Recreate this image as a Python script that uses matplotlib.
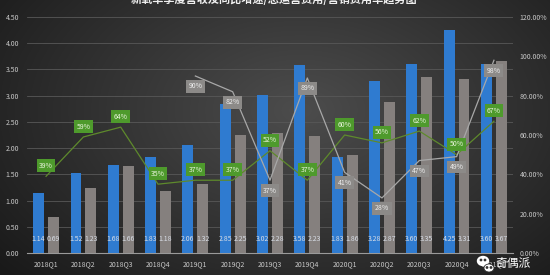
import matplotlib
matplotlib.use("Agg")
import matplotlib.pyplot as plt
import numpy as np
from matplotlib.patches import Ellipse

plt.rcParams['font.family'] = ['Noto Sans CJK SC', 'DejaVu Sans']

categories = ["2018Q1", "2018Q2", "2018Q3", "2018Q4", "2019Q1", "2019Q2", "2019Q3",
              "2019Q4", "2020Q1", "2020Q2", "2020Q3", "2020Q4", "2021Q1"]
revenue = [1.14, 1.52, 1.68, 1.83, 2.06, 2.85, 3.02, 3.58, 1.83, 3.28, 3.60, 4.25, 3.60]
opex = [0.69, 1.23, 1.66, 1.18, 1.32, 2.25, 2.28, 2.23, 1.86, 2.87, 3.35, 3.31, 3.67]
marketing_rate = [39, 59, 64, 35, 37, 37, 52, 37, 60, 56, 62, 50, 67]
yoy_categories = categories[4:]
yoy_growth = [90, 82, 37, 89, 41, 28, 47, 49, 98]
left_ticks = [0, 0.5, 1.0, 1.5, 2.0, 2.5, 3.0, 3.5, 4.0, 4.5]
right_ticks = [0, 20, 40, 60, 80, 100, 120]
title = "新氧单季度营收及同比增速/总运营费用/营销费用率趋势图"

fig = plt.figure(figsize=(5.5, 2.75), dpi=100)

# radial gradient background
bg = fig.add_axes([0, 0, 1, 1], zorder=-10)
yy, xx = np.mgrid[0:275, 0:550]
r = np.sqrt(((xx - 300) / 330.0) ** 2 + ((yy - 110) / 210.0) ** 2)
val = np.clip(0.30 - 0.17 * r, 0.10, 0.30)
img = np.dstack([val, val, val])
bg.imshow(img, aspect='auto', extent=[0, 1, 0, 1], origin='upper')
bg.axis('off')

ax = fig.add_axes([27.4 / 550, 1 - 253 / 275, (512.6 - 27.4) / 550, 236 / 275])
ax.set_facecolor('none')
x = np.arange(len(categories))
bw = 0.29
ax.bar(x - 0.2, revenue, bw, color='#2f7bd0', zorder=3)
ax.bar(x + 0.2, opex, bw, color='#85807e', zorder=3)
ax.set_xlim(-0.5, len(categories) - 0.5)
ax.set_ylim(0, 4.5)
ax.set_yticks(left_ticks)
ax.set_yticklabels([f"{t:.2f}" for t in left_ticks])
ax.set_xticks(x)
ax.set_xticklabels(categories)
ax.tick_params(axis='both', length=0, colors='#c8c8c8', labelsize=5)
ax.tick_params(axis='y', pad=6)
ax.tick_params(axis='x', pad=5)
ax.grid(axis='y', color='#585858', linewidth=0.6, zorder=0)
for s in ['top', 'right', 'left']:
    ax.spines[s].set_visible(False)
ax.spines['bottom'].set_color('#9a9a9a')
ax.spines['bottom'].set_linewidth(0.8)

for i in range(len(categories)):
    ax.text(x[i] - 0.2, 0.27, f"{revenue[i]:.2f}", ha='center', va='center',
            fontsize=5, color='#d8dde6', zorder=5)
    ax.text(x[i] + 0.2, 0.27, f"{opex[i]:.2f}", ha='center', va='center',
            fontsize=5, color='#d8dde6', zorder=5)

ax2 = ax.twinx()
ax2.set_ylim(0, 120)
ax2.set_yticks(right_ticks)
ax2.set_yticklabels([f"{t:.2f}%" for t in right_ticks])
ax2.tick_params(axis='y', length=0, colors='#c8c8c8', labelsize=5, pad=5)
for s in ['top', 'right', 'left', 'bottom']:
    ax2.spines[s].set_visible(False)

ax2.plot(x, marketing_rate, color='#5e8a2c', linewidth=0.9, zorder=4)
xy = x[4:]
ax2.plot(xy, yoy_growth, color='#a8a8a8', linewidth=0.9, zorder=4)

for i, v in enumerate(marketing_rate):
    ax2.annotate(f"{v}%", (x[i], v), xytext=(0, 7.5), textcoords='offset points',
                 ha='center', va='center', fontsize=5, color='#e8f4dc', zorder=6,
                 bbox=dict(boxstyle='square,pad=0.35', fc='#4e9a2c', ec='none'))
for xi, v in zip(xy, yoy_growth):
    ax2.annotate(f"{v}%", (xi, v), xytext=(0, -7.5), textcoords='offset points',
                 ha='center', va='center', fontsize=5, color='#eeeeee', zorder=6,
                 bbox=dict(boxstyle='square,pad=0.35', fc='#8c8a88', ec='none'))

fig.text(274 / 550, 1 - 6 / 275, title, ha='center', va='bottom', fontsize=8,
         color='#f0f0f0', fontweight='bold')

# watermark
fig.text(495 / 550, 1 - 264 / 275, "奇偶派", ha='left', va='center', fontsize=8.5,
         color='#ffffff', zorder=20)
wa = fig.add_axes([0, 0, 1, 1], zorder=15)
wa.set_xlim(0, 550)
wa.set_ylim(275, 0)
wa.axis('off')
wa.add_patch(Ellipse((483, 261), 11, 9, color='white'))
wa.add_patch(Ellipse((489, 268), 10, 8, color='white', ec='#333333', lw=0.6))
for px, py in [(481, 260), (485, 260), (487, 267.5), (491, 267.5)]:
    wa.add_patch(Ellipse((px, py), 1.4, 1.4, color='#333333'))

fig.savefig("out.png", dpi=100)
